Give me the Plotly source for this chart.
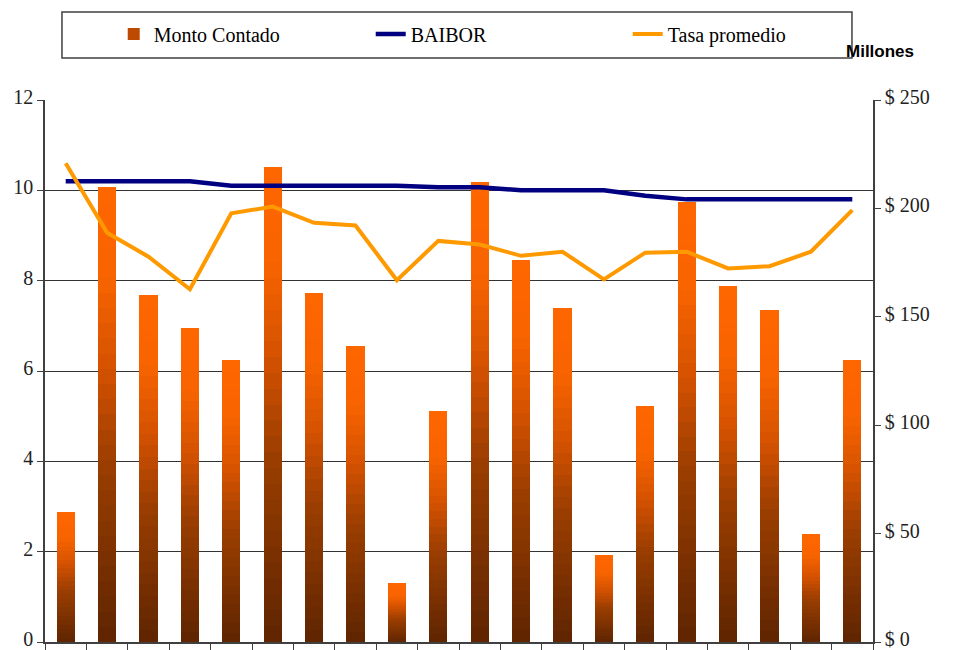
import plotly.graph_objects as go

periodos = [str(i) for i in range(1, 21)]
monto_contado = [60, 210, 160, 145, 130, 219, 161, 136.5, 27, 106.5,
                 212, 176, 154, 40, 109, 203, 164, 153, 50, 130]
baibor = [10.2, 10.2, 10.2, 10.2, 10.1, 10.1, 10.1, 10.1, 10.1, 10.07,
          10.07, 10.0, 10.0, 10.0, 9.88, 9.8, 9.8, 9.8, 9.8, 9.8]
tasa_promedio = [10.6, 9.06, 8.53, 7.81, 9.49, 9.64, 9.28, 9.22, 8.01, 8.88,
                 8.8, 8.55, 8.64, 8.03, 8.62, 8.64, 8.27, 8.32, 8.64, 9.56]

# degradado vertical de las barras (abajo marrón, arriba naranja)
stops = [(0.0, (0x5E, 0x25, 0x00)), (0.4, (0x9C, 0x3E, 0x00)),
         (0.6, (0xD4, 0x52, 0x00)), (0.8, (0xF8, 0x63, 0x00)),
         (1.0, (0xFF, 0x66, 0x00))]


def color_at(f):
    for (f0, c0), (f1, c1) in zip(stops[:-1], stops[1:]):
        if f <= f1:
            t = (f - f0) / (f1 - f0)
            return "rgb(%d,%d,%d)" % tuple(round(a + (b - a) * t) for a, b in zip(c0, c1))
    return "rgb(255,102,0)"


n_slices = 30
traces = []
for k in range(n_slices):
    traces.append(go.Bar(
        x=periodos,
        y=[v / n_slices for v in monto_contado],
        yaxis="y",
        marker={"color": color_at((k + 0.5) / n_slices), "line": {"width": 0}},
        name="Monto Contado",
        legendgroup="monto",
        showlegend=(k == n_slices // 2),
        hoverinfo="skip",
    ))

traces.append(go.Scatter(
    x=periodos, y=baibor, yaxis="y2", mode="lines", name="BAIBOR",
    line={"color": "#000080", "width": 4.5},
))
traces.append(go.Scatter(
    x=periodos, y=tasa_promedio, yaxis="y2", mode="lines", name="Tasa promedio",
    line={"color": "#FF9900", "width": 4},
))

serif = "Liberation Serif, Times New Roman, serif"

# la página html tiene 8px de margen en el body: figura 8px más chica
layout = go.Layout(
    width=949, height=642,
    margin={"l": 37, "r": 84, "t": 92, "b": 8, "autoexpand": False},
    paper_bgcolor="white", plot_bgcolor="white",
    font={"family": serif, "size": 20, "color": "#222"},
    barmode="stack", bargap=0.56,
    xaxis={
        "type": "category", "showticklabels": False, "showgrid": False,
        "ticks": "outside", "tickson": "boundaries", "ticklen": 6,
        "tickcolor": "#404040", "showline": True, "linecolor": "#404040",
        "linewidth": 1.5, "fixedrange": True,
    },
    yaxis={
        "side": "right", "range": [0, 250], "dtick": 50, "tickprefix": "$ ",
        "showgrid": False, "zeroline": False, "ticks": "outside", "ticklen": 6,
        "tickcolor": "#404040", "showline": True, "linecolor": "#404040",
        "linewidth": 1.5, "ticklabeloverflow": "allow", "ticklabelshift": -3,
    },
    yaxis2={
        "side": "left", "overlaying": "y", "range": [0, 12], "dtick": 2,
        "showgrid": True, "gridcolor": "#333", "gridwidth": 1, "zeroline": False,
        "ticks": "outside", "ticklen": 6, "tickcolor": "#404040",
        "showline": True, "linecolor": "#404040", "linewidth": 1.5,
        "ticklabeloverflow": "allow", "ticklabelshift": -3,
    },
    legend={
        "orientation": "h", "x": 0.083, "xanchor": "left", "y": 1.122,
        "yanchor": "middle", "entrywidth": 212, "entrywidthmode": "pixels",
        "bgcolor": "rgba(0,0,0,0)", "font": {"family": serif, "size": 20, "color": "black"},
        "traceorder": "normal",
    },
    shapes=[{
        "type": "rect", "xref": "paper", "yref": "paper",
        "x0": 0.0205, "x1": 0.9746, "y0": 1.0775, "y1": 1.1624,
        "line": {"color": "#404040", "width": 1.5}, "fillcolor": "rgba(0,0,0,0)",
    }],
    annotations=[{
        "text": "<b>Millones</b>", "xref": "paper", "yref": "paper",
        "x": 1.052, "y": 1.1107, "showarrow": False,
        "font": {"family": "Liberation Sans Narrow, Liberation Sans, Arial, sans-serif",
                 "size": 17, "color": "black"},
    }],
)

fig = go.Figure(data=traces, layout=layout)
fig.write_html("out.html")
